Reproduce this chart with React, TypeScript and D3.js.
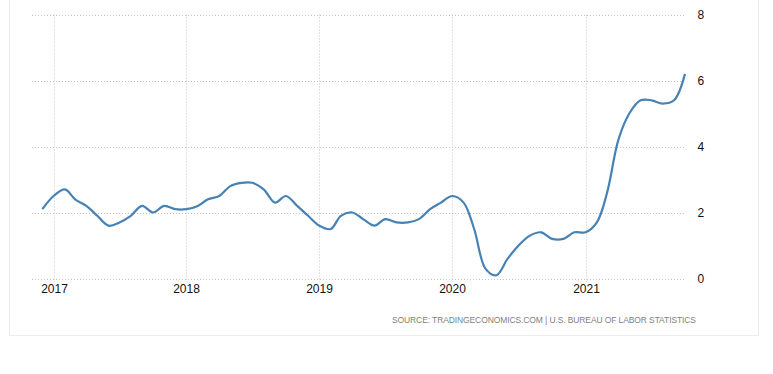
import React from "react";
import * as d3 from "d3";

const startMonth = new Date(2016, 11, 1);
const inflation = [
  2.1,
  2.5, 2.7, 2.4, 2.2, 1.9, 1.6, 1.7, 1.9, 2.2, 2.0, 2.2, 2.1,
  2.1, 2.2, 2.4, 2.5, 2.8, 2.9, 2.9, 2.7, 2.3, 2.5, 2.2, 1.9,
  1.6, 1.5, 1.9, 2.0, 1.8, 1.6, 1.8, 1.7, 1.7, 1.8, 2.1, 2.3,
  2.5, 2.3, 1.5, 0.3, 0.1, 0.6, 1.0, 1.3, 1.4, 1.2, 1.2, 1.4,
  1.4, 1.7, 2.6, 4.2, 5.0, 5.4, 5.4, 5.3, 5.4, 6.2,
];
const yTicks = [0, 2, 4, 6, 8];
const xTickYears = [2017, 2018, 2019, 2020, 2021];
const sourceText = "SOURCE: TRADINGECONOMICS.COM | U.S. BUREAU OF LABOR STATISTICS";

export default function App() {
  const W = 773, H = 374;
  const dates = inflation.map((_, i) => new Date(2016, 11 + i, 1));
  const x = d3.scaleTime()
    .domain([startMonth, dates[dates.length - 1]])
    .range([42.3, 685]);
  const y = d3.scaleLinear().domain([0, 8]).range([278.5, 14.5]);
  const line = d3.line<number>()
    .x((_, i) => x(dates[i]))
    .y((d) => y(d))
    .curve(d3.curveCatmullRom.alpha(0.5));
  const font = "'Liberation Sans', Arial, sans-serif";
  return (
    <svg width={W} height={H} style={{ position: "absolute", left: 0, top: 0, background: "#fff" }}>
      <rect x={9.5} y={-10} width={749} height={345.5} fill="none" stroke="#ececec" />
      {yTicks.map((t) => (
        <line key={"h" + t} x1={32} x2={685} y1={Math.round(y(t)) + 0.5} y2={Math.round(y(t)) + 0.5}
          stroke="#c4c4c4" strokeDasharray="1 2" />
      ))}
      {xTickYears.map((yr) => {
        const xx = Math.round(x(new Date(yr, 0, 1))) + 0.5;
        return (
          <g key={yr}>
            <line x1={xx} x2={xx} y1={14.5} y2={282} stroke="#c4c4c4" strokeDasharray="1 2" />
            <text x={xx} y={289} textAnchor="middle" dominantBaseline="central"
              fontFamily={font} fontSize={12} fill="#111">{yr}</text>
          </g>
        );
      })}
      {yTicks.map((t) => (
        <text key={"yl" + t} x={697.5} y={y(t)} dominantBaseline="central"
          fontFamily={font} fontSize={12} fill="#111">{t}</text>
      ))}
      <path d={line(inflation) || ""} fill="none" stroke="#4682b4" strokeWidth={2.2} />
      <text x={696} y={320} textAnchor="end" dominantBaseline="central" fontFamily={font}
        fontSize={8.5} fill="#7f7f7f" textLength={304} lengthAdjust="spacing">{sourceText}</text>
    </svg>
  );
}
